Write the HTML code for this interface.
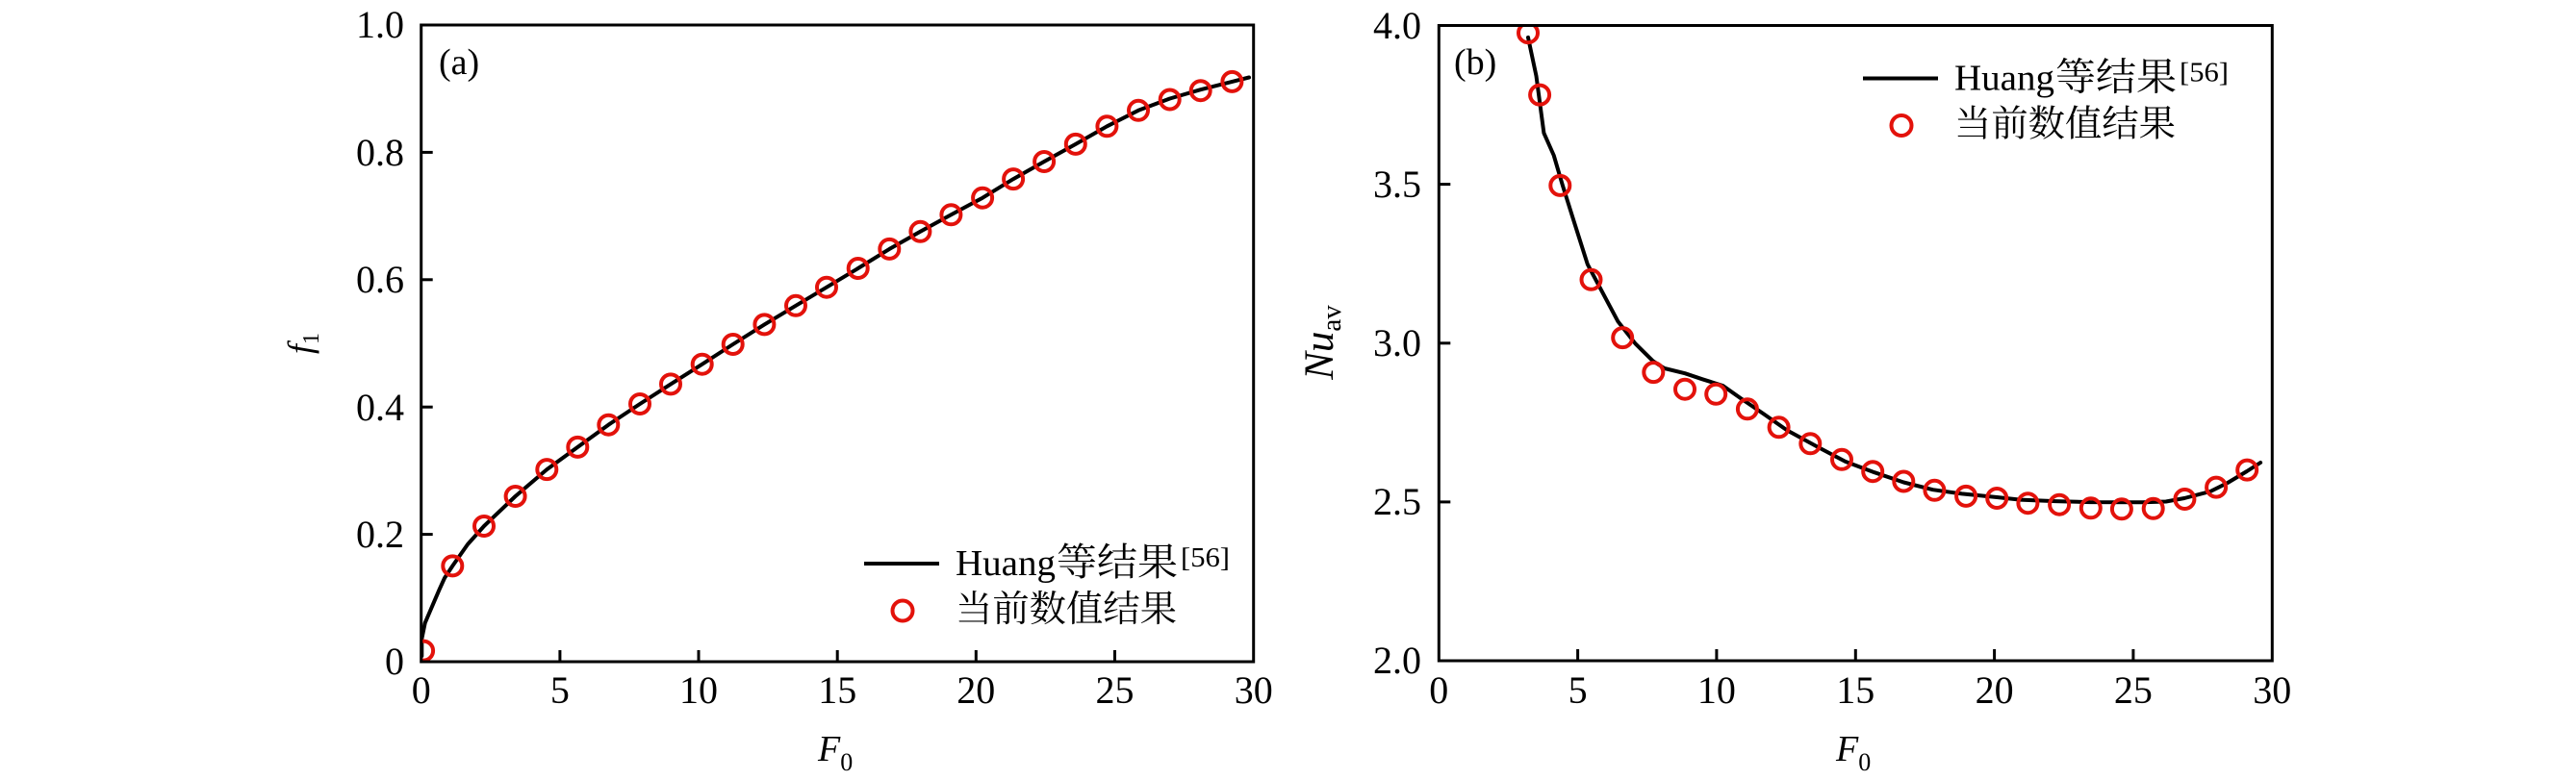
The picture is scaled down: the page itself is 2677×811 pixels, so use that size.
<!DOCTYPE html>
<html>
<head>
<meta charset="utf-8">
<style>
html,body{margin:0;padding:0;background:#fff;}
svg{display:block;}
.tk{font-family:"Liberation Serif",serif;font-size:40px;fill:#000;}
.cj{font-family:"Liberation Serif","Noto Serif CJK SC",serif;fill:#000;}
</style>
</head>
<body>
<svg width="2677" height="811" viewBox="0 0 2677 811" xmlns="http://www.w3.org/2000/svg">
<defs>
<clipPath id="ca"><rect x="437.7" y="26" width="865" height="662"/></clipPath>
<clipPath id="cb"><rect x="1495.3" y="26.5" width="866" height="660.5"/></clipPath>
</defs>
<rect x="0" y="0" width="2677" height="811" fill="#fff"/>

<!-- ===== Panel (a) ===== -->
<g clip-path="url(#ca)">
<polyline fill="none" stroke="#000" stroke-width="4" stroke-linejoin="round" stroke-linecap="round"
points="438.3,682 438.3,664.3 441.7,647.7 446.7,636 451.7,624.3 456.7,612.7 462,601 470.3,588.4 486,566 503.0,547.0 535.6,516.0 568.3,488.1 600.3,464.9 632.3,441.7 665.0,420.0 697.0,399.4 729.7,378.7 761.7,358.0 794.4,337.4 827.0,317.8 859.0,298.7 891.7,279.0 924.3,258.9 956.4,240.8 988.4,223.3 1021.1,205.7 1053.1,186.1 1085.1,168.0 1117.8,149.9 1150.4,131.3 1183.0,114.8 1215.7,102.5 1247.7,93.2 1280.4,84.9 1298,80.5"/>
<g fill="none" stroke="#e3120b" stroke-width="4">
<circle cx="440.1" cy="676.6" r="10"/><circle cx="470.3" cy="588.4" r="10"/><circle cx="503.0" cy="547.0" r="10"/>
<circle cx="535.6" cy="516.0" r="10"/><circle cx="568.3" cy="488.1" r="10"/><circle cx="600.3" cy="464.9" r="10"/>
<circle cx="632.3" cy="441.7" r="10"/><circle cx="665.0" cy="420.0" r="10"/><circle cx="697.0" cy="399.4" r="10"/>
<circle cx="729.7" cy="378.7" r="10"/><circle cx="761.7" cy="358.0" r="10"/><circle cx="794.4" cy="337.4" r="10"/>
<circle cx="827.0" cy="317.8" r="10"/><circle cx="859.0" cy="298.7" r="10"/><circle cx="891.7" cy="279.0" r="10"/>
<circle cx="924.3" cy="258.9" r="10"/><circle cx="956.4" cy="240.8" r="10"/><circle cx="988.4" cy="223.3" r="10"/>
<circle cx="1021.1" cy="205.7" r="10"/><circle cx="1053.1" cy="186.1" r="10"/><circle cx="1085.1" cy="168.0" r="10"/>
<circle cx="1117.8" cy="149.9" r="10"/><circle cx="1150.4" cy="131.3" r="10"/><circle cx="1183.0" cy="114.8" r="10"/>
<circle cx="1215.7" cy="103.5" r="10"/><circle cx="1247.7" cy="94.2" r="10"/><circle cx="1280.4" cy="84.9" r="10"/>
</g>
</g>
<rect x="437.7" y="26" width="865" height="662" fill="none" stroke="#000" stroke-width="3"/>
<g stroke="#000" stroke-width="3">
<line x1="581.9" y1="688" x2="581.9" y2="676"/><line x1="726.0" y1="688" x2="726.0" y2="676"/>
<line x1="870.2" y1="688" x2="870.2" y2="676"/><line x1="1014.3" y1="688" x2="1014.3" y2="676"/>
<line x1="1158.5" y1="688" x2="1158.5" y2="676"/>
<line x1="437.7" y1="555.6" x2="449.7" y2="555.6"/><line x1="437.7" y1="423.2" x2="449.7" y2="423.2"/>
<line x1="437.7" y1="290.8" x2="449.7" y2="290.8"/><line x1="437.7" y1="158.4" x2="449.7" y2="158.4"/>
</g>
<g class="tk" text-anchor="middle">
<text x="437.7" y="731">0</text><text x="581.9" y="731">5</text><text x="726.0" y="731">10</text>
<text x="870.2" y="731">15</text><text x="1014.3" y="731">20</text><text x="1158.5" y="731">25</text>
<text x="1302.7" y="731">30</text>
</g>
<g class="tk" text-anchor="end">
<text x="420" y="701">0</text><text x="420" y="569">0.2</text><text x="420" y="437">0.4</text>
<text x="420" y="304">0.6</text><text x="420" y="172">0.8</text><text x="420" y="39">1.0</text>
</g>
<text x="850" y="791" font-family="Liberation Serif, serif" font-style="italic" font-size="38">F<tspan font-style="normal" font-size="26" dy="10">0</tspan></text>
<text transform="translate(324,357) rotate(-90)" text-anchor="middle" font-family="Liberation Serif, serif" font-style="italic" font-size="36">f<tspan font-style="normal" font-size="24" dy="7">1</tspan></text>
<text x="456" y="77" font-family="Liberation Serif, serif" font-size="38">(a)</text>
<!-- legend a -->
<line x1="898" y1="586" x2="976" y2="586" stroke="#000" stroke-width="4"/>
<circle cx="938" cy="635" r="10.5" fill="none" stroke="#e3120b" stroke-width="4"/>
<text class="cj" x="993" y="598" font-size="38" textLength="104" lengthAdjust="spacingAndGlyphs">Huang</text>
<text class="cj" x="1098" y="598" font-size="40" textLength="126" lengthAdjust="spacingAndGlyphs">等结果</text>
<text class="cj" x="1227" y="589" font-size="29" textLength="51" lengthAdjust="spacingAndGlyphs">[56]</text>
<text class="cj" x="993" y="646" font-size="38" textLength="230" lengthAdjust="spacingAndGlyphs">当前数值结果</text>

<!-- ===== Panel (b) ===== -->
<g clip-path="url(#cb)">
<polyline fill="none" stroke="#000" stroke-width="4" stroke-linejoin="round" stroke-linecap="round"
points="1588.0,38.9 1596.5,79.0 1604.4,138.3 1614.7,161.5 1623.8,192.4 1635.9,231.0 1649.8,274.8 1666.2,305.7 1681.3,334.1 1699.5,357.3 1717.7,375.3 1729.8,383.0 1751.0,388.2 1769.2,394.3 1790.4,401.0 1808.6,413.9 1832.8,430.4 1857.1,447.4 1887.4,463.9 1917.7,479.9 1948.0,491.2 1978.3,501.5 2008.6,509.2 2038.9,513.4 2075.2,517.0 2099.5,519.6 2135.8,521.1 2172.2,522.1 2226.7,522.3 2250.9,521.5 2270,518 2297,511 2315,502 2335,490 2349.1,481"/>
<g fill="none" stroke="#e3120b" stroke-width="4">
<circle cx="1588.0" cy="34.2" r="10"/><circle cx="1600.1" cy="98.6" r="10"/><circle cx="1621.3" cy="192.9" r="10"/>
<circle cx="1653.5" cy="290.8" r="10"/><circle cx="1686.2" cy="351.1" r="10"/><circle cx="1718.3" cy="387.1" r="10"/>
<circle cx="1751.0" cy="404.7" r="10"/><circle cx="1783.2" cy="409.8" r="10"/><circle cx="1815.9" cy="425.3" r="10"/>
<circle cx="1848.6" cy="444.3" r="10"/><circle cx="1881.3" cy="461.3" r="10"/><circle cx="1914.0" cy="477.8" r="10"/>
<circle cx="1946.2" cy="490.2" r="10"/><circle cx="1978.3" cy="500.5" r="10"/><circle cx="2010.4" cy="509.8" r="10"/>
<circle cx="2043.1" cy="515.9" r="10"/><circle cx="2075.2" cy="518.0" r="10"/><circle cx="2107.4" cy="523.2" r="10"/>
<circle cx="2140.1" cy="524.7" r="10"/><circle cx="2172.8" cy="528.3" r="10"/><circle cx="2204.9" cy="529.3" r="10"/>
<circle cx="2237.7" cy="528.8" r="10"/><circle cx="2270.4" cy="519.0" r="10"/><circle cx="2303.1" cy="506.6" r="10"/>
<circle cx="2335.2" cy="488.6" r="10"/>
</g>
</g>
<rect x="1495.3" y="26.5" width="866" height="660.5" fill="none" stroke="#000" stroke-width="3"/>
<g stroke="#000" stroke-width="3">
<line x1="1639.6" y1="687" x2="1639.6" y2="675"/><line x1="1783.9" y1="687" x2="1783.9" y2="675"/>
<line x1="1928.3" y1="687" x2="1928.3" y2="675"/><line x1="2072.6" y1="687" x2="2072.6" y2="675"/>
<line x1="2216.9" y1="687" x2="2216.9" y2="675"/>
<line x1="1495.3" y1="521.9" x2="1507.3" y2="521.9"/><line x1="1495.3" y1="356.8" x2="1507.3" y2="356.8"/>
<line x1="1495.3" y1="191.6" x2="1507.3" y2="191.6"/>
</g>
<g class="tk" text-anchor="middle">
<text x="1495.3" y="731">0</text><text x="1639.6" y="731">5</text><text x="1783.9" y="731">10</text>
<text x="1928.3" y="731">15</text><text x="2072.6" y="731">20</text><text x="2216.9" y="731">25</text>
<text x="2361.3" y="731">30</text>
</g>
<g class="tk" text-anchor="end">
<text x="1477" y="700">2.0</text><text x="1477" y="535">2.5</text><text x="1477" y="370">3.0</text>
<text x="1477" y="205">3.5</text><text x="1477" y="40">4.0</text>
</g>
<text x="1908" y="791" font-family="Liberation Serif, serif" font-style="italic" font-size="38">F<tspan font-style="normal" font-size="26" dy="10">0</tspan></text>
<text transform="translate(1385,356) rotate(-90)" text-anchor="middle" font-family="Liberation Serif, serif" font-style="italic" font-size="43">Nu<tspan font-style="normal" font-size="29" dy="8">av</tspan></text>
<text x="1511" y="77" font-family="Liberation Serif, serif" font-size="38">(b)</text>
<!-- legend b -->
<line x1="1936" y1="81.5" x2="2014" y2="81.5" stroke="#000" stroke-width="4"/>
<circle cx="1976" cy="130.5" r="10.5" fill="none" stroke="#e3120b" stroke-width="4"/>
<text class="cj" x="2031" y="93.5" font-size="38" textLength="104" lengthAdjust="spacingAndGlyphs">Huang</text>
<text class="cj" x="2136" y="93.5" font-size="40" textLength="126" lengthAdjust="spacingAndGlyphs">等结果</text>
<text class="cj" x="2265" y="84.5" font-size="29" textLength="51" lengthAdjust="spacingAndGlyphs">[56]</text>
<text class="cj" x="2031" y="141.5" font-size="38" textLength="230" lengthAdjust="spacingAndGlyphs">当前数值结果</text>
</svg>
</body>
</html>
